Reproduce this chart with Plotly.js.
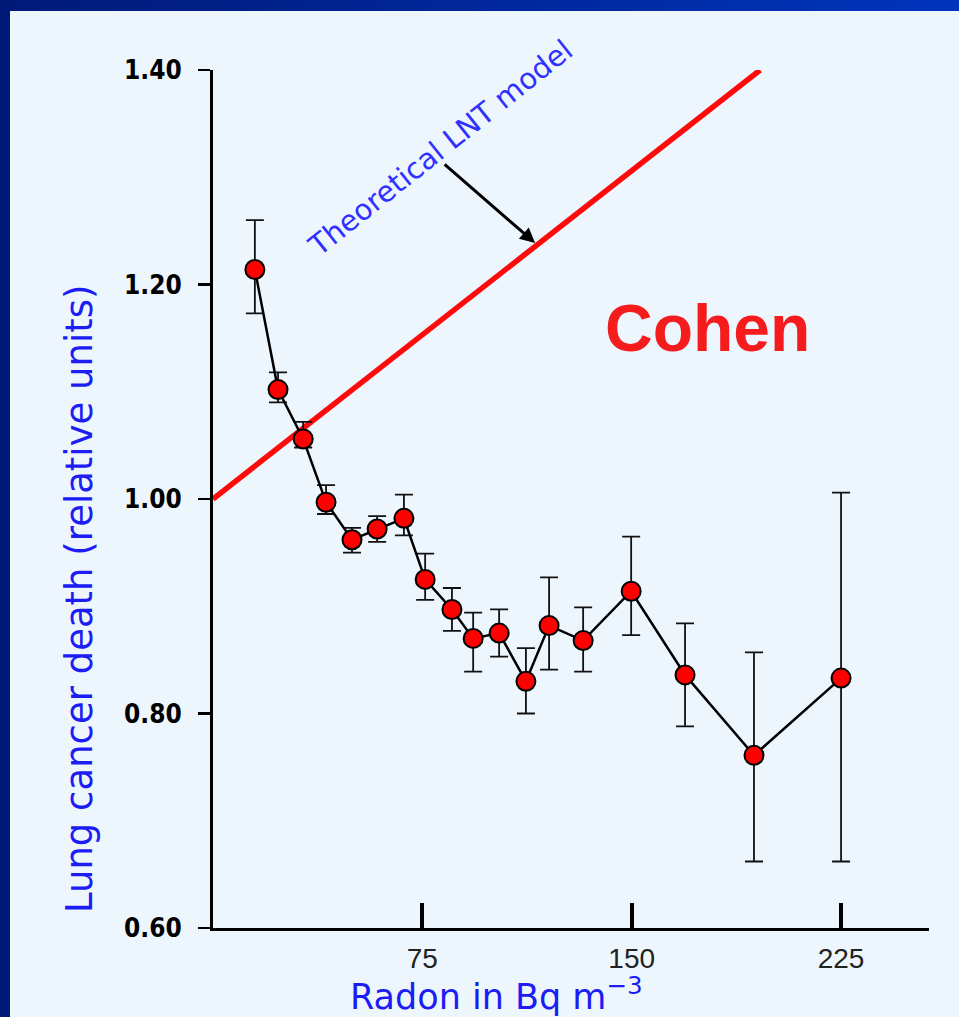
<!DOCTYPE html>
<html>
<head>
<meta charset="utf-8">
<script src="https://cdn.plot.ly/plotly-3.0.1.min.js"></script>
<style>
  html, body { margin: 0; padding: 0; background: #eef6fd; }
  #wrap { position: relative; width: 959px; height: 1017px; overflow: hidden; }
  #chart { position: absolute; left: 0; top: 0; width: 959px; height: 1017px; }
  #topbar { position: absolute; left: 0; top: 0; width: 959px; height: 11px;
            background: linear-gradient(to right, #001a78, #0034bd); z-index: 5; }
  #leftbar { position: absolute; left: 0; top: 0; width: 10px; height: 1017px;
             background: #001a78; z-index: 5; }
</style>
</head>
<body>
<div id="wrap">
  <div id="chart"></div>
  <div id="topbar"></div>
  <div id="leftbar"></div>
</div>
<script>
// Radon concentration (Bq m^-3) for each county group
const radon = [15.0, 23.3, 32.3, 40.5, 49.8, 58.8, 68.4, 76.0, 85.6, 93.2,
               102.5, 112.1, 120.4, 132.6, 149.8, 169.1, 193.8, 225.0];
// Lung cancer death (relative units)
const deathRate = [1.214, 1.102, 1.056, 0.997, 0.962, 0.972, 0.982, 0.925, 0.897, 0.870,
                   0.875, 0.830, 0.882, 0.868, 0.914, 0.836, 0.761, 0.833];
// Upper and lower ends of the error bars
const upperBound = [1.260, 1.118, 1.072, 1.013, 0.973, 0.984, 1.004, 0.949, 0.917, 0.894,
                    0.897, 0.861, 0.927, 0.899, 0.965, 0.884, 0.857, 1.006];
const lowerBound = [1.173, 1.090, 1.048, 0.986, 0.950, 0.960, 0.966, 0.906, 0.877, 0.839,
                    0.853, 0.800, 0.841, 0.839, 0.873, 0.788, 0.662, 0.662];
// Theoretical LNT model line
const lntX = [0, 196];
const lntY = [1.00, 1.40];
// Tick labels
const xTickVals = [75, 150, 225];
const xTickText = ['75', '150', '225'];
const yTickVals = [0.60, 0.80, 1.00, 1.20, 1.40];
const yTickText = ['0.60', '0.80', '1.00', '1.20', '1.40'];

const errPlus = deathRate.map((v, i) => +(upperBound[i] - v).toFixed(4));
const errMinus = deathRate.map((v, i) => +(v - lowerBound[i]).toFixed(4));

const traces = [
  {
    x: lntX, y: lntY, type: 'scatter', mode: 'lines',
    line: { color: '#ff0a0a', width: 5.5 },
    cliponaxis: false, hoverinfo: 'skip', showlegend: false
  },
  {
    x: radon, y: deathRate, type: 'scatter', mode: 'lines+markers',
    line: { color: '#000000', width: 2.5 },
    marker: { size: 19, color: '#ff0000', line: { color: '#000000', width: 2 } },
    error_y: {
      type: 'data', symmetric: false, array: errPlus, arrayminus: errMinus,
      color: '#111111', thickness: 1.8, width: 9
    },
    cliponaxis: false, showlegend: false
  }
];

const titleFont = 'DejaVu Sans, Arial, sans-serif';

const layout = {
  width: 959, height: 1017,
  margin: { l: 213, r: 30, t: 70, b: 89 },
  paper_bgcolor: '#eef6fd',
  plot_bgcolor: 'rgba(0,0,0,0)',
  showlegend: false,
  xaxis: {
    range: [0, 256.5],
    showgrid: false, zeroline: false,
    showline: true, linecolor: '#000', linewidth: 3,
    ticks: 'inside', ticklen: 25, tickwidth: 4, tickcolor: '#000',
    tickvals: xTickVals, ticktext: xTickText,
    tickfont: { family: 'Liberation Sans, Arial, sans-serif', size: 28, color: '#222' },
    ticklabelstandoff: 3
  },
  yaxis: {
    range: [0.60, 1.40],
    showgrid: false, zeroline: false,
    showline: true, linecolor: '#000', linewidth: 3,
    ticks: 'outside', ticklen: 12, tickwidth: 2.5, tickcolor: '#000',
    tickvals: yTickVals, ticktext: yTickText,
    tickfont: { family: 'DejaVu Sans Condensed, Liberation Sans Narrow, Arial Narrow, sans-serif',
                size: 26, color: '#000', weight: 'bold' },
    ticklabelstandoff: 11
  },
  annotations: [
    {
      xref: 'paper', yref: 'paper', x: (496 - 213) / 716, y: (928 - 994) / 858,
      xanchor: 'center', yanchor: 'middle', showarrow: false,
      text: 'Radon in Bq m<sup>\u22123</sup>',
      font: { family: titleFont, size: 35, color: '#1c1cf5' }
    },
    {
      xref: 'paper', yref: 'paper', x: (79 - 213) / 716, y: (928 - 599) / 858,
      xanchor: 'center', yanchor: 'middle', showarrow: false, textangle: -90,
      text: 'Lung cancer death (relative units)',
      font: { family: titleFont, size: 37, color: '#1c1cf5' }
    },
    {
      xref: 'x', yref: 'y', x: 81.5, y: 1.327,
      xanchor: 'center', yanchor: 'middle', showarrow: false, textangle: -38.5,
      text: 'Theoretical LNT model',
      font: { family: titleFont, size: 29, color: '#3030ff' }
    },
    {
      xref: 'x', yref: 'y', x: 115.4, y: 1.2387,
      ax: -92, ay: -80, text: '', showarrow: true,
      arrowhead: 2, arrowsize: 1, arrowwidth: 3, arrowcolor: '#000'
    },
    {
      xref: 'x', yref: 'y', x: 177, y: 1.159,
      xanchor: 'center', yanchor: 'middle', showarrow: false,
      text: '<b>Cohen</b>',
      font: { family: 'Liberation Sans, Arial, sans-serif', size: 66, color: '#f41c1c' }
    }
  ]
};

Plotly.newPlot('chart', traces, layout, { displayModeBar: false, staticPlot: true });
</script>
</body>
</html>
